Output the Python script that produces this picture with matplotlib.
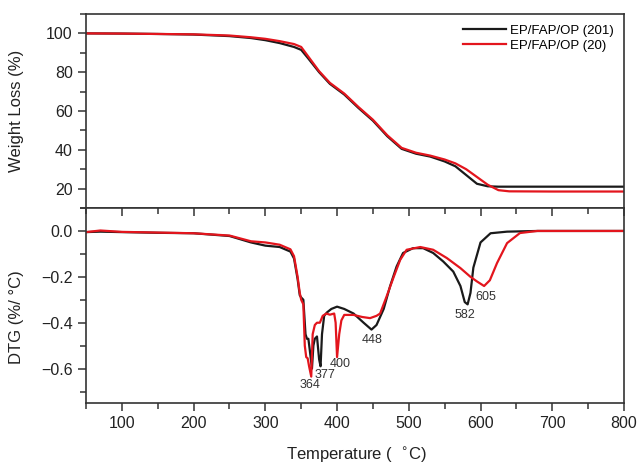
import numpy as np
import matplotlib.pyplot as plt
from matplotlib.ticker import MultipleLocator

plt.rcParams['font.family'] = ['Liberation Sans', 'DejaVu Sans']

# TGA curves (weight %)
tga_t = [50, 100, 150, 200, 250, 280, 300, 320, 340, 350, 360, 375, 390, 410, 430,
         450, 470, 490, 510, 530, 550, 565, 580, 595, 610, 625, 640, 700, 800]
tga_201 = [100, 99.9, 99.7, 99.4, 98.6, 97.6, 96.5, 95, 93, 91.5, 87, 80, 74, 68.5, 61.5,
           55, 47, 40.5, 38, 36.5, 34, 31.5, 27, 22.5, 21.2, 21, 21, 21, 21]
tga_20 = [100, 99.9, 99.7, 99.5, 98.9, 98, 97.2, 96, 94.5, 93, 88, 80.5, 74.5, 69, 62,
          55.5, 47.5, 41, 38.5, 37, 35, 33, 30, 26, 22, 19.2, 18.6, 18.5, 18.5]

# DTG curves (%/°C)
dtg_t_201 = [50, 70, 100, 150, 200, 250, 280, 300, 320, 335, 340, 345, 348, 350, 353, 356,
             358, 360, 362, 365, 367, 369, 372, 375, 377, 379, 382, 386, 392, 400, 410,
             423, 437, 448, 455, 465, 474, 483, 492, 506, 520, 534, 548, 562, 572, 578,
             582, 586, 590, 600, 614, 637, 680, 800]
dtg_201 = [-0.005, -0.003, -0.005, -0.008, -0.01, -0.022, -0.05, -0.064, -0.07, -0.09, -0.12,
           -0.21, -0.28, -0.29, -0.30, -0.45, -0.47, -0.47, -0.52, -0.60, -0.50, -0.47, -0.46,
           -0.56, -0.59, -0.45, -0.37, -0.355, -0.34, -0.33, -0.34, -0.36, -0.40, -0.43, -0.41,
           -0.34, -0.24, -0.155, -0.096, -0.075, -0.075, -0.096, -0.133, -0.177, -0.24, -0.31,
           -0.32, -0.27, -0.16, -0.05, -0.01, -0.003, 0, 0]

dtg_t_20 = [50, 70, 100, 150, 200, 250, 280, 300, 320, 335, 340, 345, 348, 350, 353, 355,
            357, 359, 361, 364, 366, 369, 372, 376, 380, 385, 390, 396, 398, 400, 403, 406,
            410, 423, 435, 446, 455, 460, 469, 479, 488, 497, 516, 534, 553, 572, 586, 595,
            605, 613, 623, 637, 655, 679, 800]
dtg_20 = [-0.005, 0.002, -0.004, -0.007, -0.01, -0.02, -0.045, -0.05, -0.06, -0.08, -0.11,
          -0.2, -0.27, -0.30, -0.32, -0.50, -0.55, -0.555, -0.59, -0.635, -0.45, -0.41, -0.40,
          -0.40, -0.37, -0.36, -0.365, -0.36, -0.40, -0.55, -0.45, -0.39, -0.366, -0.366,
          -0.375, -0.38, -0.37, -0.36, -0.286, -0.2, -0.126, -0.082, -0.07, -0.082, -0.118,
          -0.162, -0.2, -0.22, -0.24, -0.215, -0.14, -0.053, -0.009, 0, 0]

peak_labels = ['364', '377', '400', '448', '582', '605']
peak_x = [362, 383, 404, 449, 578, 608]
peak_y = [-0.673, -0.629, -0.58, -0.476, -0.366, -0.288]

black = '#1a1a1a'
red = '#e3151d'

fig = plt.figure(figsize=(6.39, 4.66), dpi=100)
ax1 = fig.add_axes([0.1346, 0.5536, 0.8419, 0.4164])
ax2 = fig.add_axes([0.1346, 0.1352, 0.8419, 0.4184])

ax1.plot(tga_t, tga_201, color=black, lw=1.6, label='EP/FAP/OP (201)')
ax1.plot(tga_t, tga_20, color=red, lw=1.6, label='EP/FAP/OP (20)')
ax2.plot(dtg_t_201, dtg_201, color=black, lw=1.6)
ax2.plot(dtg_t_20, dtg_20, color=red, lw=1.6)

for lab, x, y in zip(peak_labels, peak_x, peak_y):
    ax2.text(x, y, lab, ha='center', va='center', fontsize=9, color='#333333')

ax1.set_xlim(50, 800)
ax1.set_ylim(10, 110)
ax2.set_xlim(50, 800)
ax2.set_ylim(-0.75, 0.1)

ax1.yaxis.set_minor_locator(MultipleLocator(10))
ax1.set_yticks([20, 40, 60, 80, 100])
ax1.tick_params(axis='x', which='both', bottom=False, labelbottom=False)

ax2.xaxis.set_minor_locator(MultipleLocator(50))
ax2.set_xticks([100, 200, 300, 400, 500, 600, 700, 800])
ax2.yaxis.set_minor_locator(MultipleLocator(0.1))
ax2.set_yticks([-0.6, -0.4, -0.2, 0.0])
ax2.tick_params(axis='x', which='both', top=True, direction='out')

for ax in (ax1, ax2):
    ax.tick_params(which='major', length=6, width=1.1, labelsize=11.5, color='#333333',
                   labelcolor='#222222')
    ax.tick_params(which='minor', length=4, width=1.1, color='#333333')
    ax.tick_params(axis='y', which='both', direction='out', right=False)
    for s in ax.spines.values():
        s.set_linewidth(1.2)
        s.set_color('#333333')

# top ticks of lower panel point inward
for t in ax2.xaxis.get_major_ticks() + ax2.xaxis.get_minor_ticks():
    t.tick2line.set_marker(3)

ax1.set_ylabel('Weight Loss (%)', fontsize=12, color='#222222')
ax2.set_ylabel('DTG (%/ °C)', fontsize=12, color='#222222')
ax1.yaxis.set_label_coords(-0.115, 0.5)
ax2.yaxis.set_label_coords(-0.115, 0.44)
fig.text(0.558, 0.024, 'Temperature (  $^{\\circ}$C)', ha='center', va='center', fontsize=12,
         color='#222222')

ax1.legend(loc='upper right', bbox_to_anchor=(1.0, 1.0), frameon=False, fontsize=9.5,
           handlelength=3.2, handletextpad=0.3, labelspacing=0.2, borderaxespad=0.4)

fig.savefig('out.png', dpi=100)
